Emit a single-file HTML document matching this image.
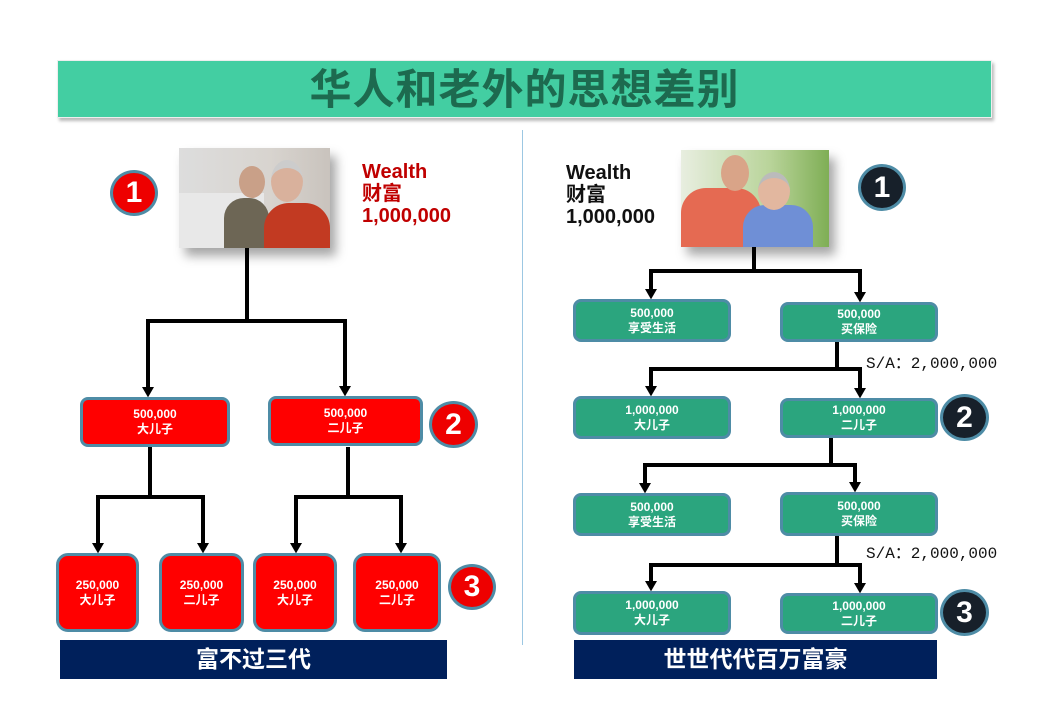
<!DOCTYPE html>
<html><head><meta charset="utf-8">
<style>
*{margin:0;padding:0;box-sizing:border-box}
body{width:1040px;height:720px;background:#fff;position:relative;overflow:hidden;font-family:"Liberation Sans","Noto Sans CJK SC",sans-serif}
.a{position:absolute}
.title{left:57px;top:60px;width:935px;height:58px;background:#43CEA2;box-shadow:2px 3px 3px #bbb;border:1px solid #eee;color:#1D6A4F;font-size:42px;font-weight:bold;text-align:center;line-height:58px;letter-spacing:1px}
.box{position:absolute;border:3px solid #4E8CA6;border-radius:8px;color:#fff;font-weight:bold;text-align:center;display:flex;flex-direction:column;justify-content:center;font-size:12px;line-height:15px}
.r{background:#FF0000}
.g{background:#2BA57E}
.c{position:absolute;border-radius:50%;border:3px solid #4E8CA6;color:#fff;font-weight:bold;font-size:30px;text-align:center;display:flex;align-items:center;justify-content:center}
.cr{background:#EE0000}
.cd{background:#17202A}
.banner{position:absolute;top:640px;height:39px;background:#00205B;color:#fff;font-size:23px;font-weight:bold;text-align:center;line-height:39px}
.w{font-weight:bold;font-size:20px;line-height:22px}
.sa{position:absolute;font-family:"Liberation Mono","Noto Sans CJK SC",monospace;font-size:16px;color:#111}
.photo{position:absolute;box-shadow:6px 8px 10px rgba(0,0,0,.35);overflow:hidden}
</style></head><body>
<div class="a title">华人和老外的思想差别</div>
<div class="a" style="left:522px;top:130px;width:1px;height:515px;background:#9CC7E2"></div>

<div class="photo" style="left:179px;top:148px;width:151px;height:100px;background:linear-gradient(90deg,#ddd 0%,#d8d4cf 60%,#c9c3bd 100%)">
  <div class="a" style="left:0;top:45px;width:85px;height:55px;background:#e8e8e8"></div>
  <div class="a" style="left:45px;top:50px;width:45px;height:50px;background:#6d6655;border-radius:20px 20px 0 0"></div>
  <div class="a" style="left:60px;top:18px;width:26px;height:32px;background:#c9a088;border-radius:50%"></div>
  <div class="a" style="left:85px;top:55px;width:66px;height:45px;background:#c23a22;border-radius:25px 25px 0 0"></div>
  <div class="a" style="left:92px;top:12px;width:32px;height:42px;background:#d9b19c;border-radius:50%;border-top:8px solid #ccc"></div>
</div>
<div class="c cr" style="left:110px;top:170px;width:48px;height:46px">1</div>
<div class="a w" style="left:362px;top:161px;color:#C00000">Wealth<br>财富<br>1,000,000</div>

<div class="photo" style="left:681px;top:150px;width:148px;height:97px;background:linear-gradient(90deg,#e8eee0 0%,#b9d49a 60%,#7fae55 100%)">
  <div class="a" style="left:0;top:38px;width:80px;height:59px;background:#e56a52;border-radius:25px 25px 0 0"></div>
  <div class="a" style="left:40px;top:5px;width:28px;height:36px;background:#d9a488;border-radius:50%"></div>
  <div class="a" style="left:62px;top:55px;width:70px;height:42px;background:#6f8fd6;border-radius:22px 22px 0 0"></div>
  <div class="a" style="left:77px;top:22px;width:32px;height:38px;background:#e2b79f;border-radius:50%;border-top:6px solid #bbb"></div>
</div>
<div class="c cd" style="left:858px;top:164px;width:48px;height:47px">1</div>
<div class="a w" style="left:566px;top:162px;color:#111">Wealth<br>财富<br>1,000,000</div>

<svg class="a" style="left:0;top:0" width="1040" height="720">
<defs><marker id="ar" markerWidth="2.6" markerHeight="3" refX="1" refY="1.5" orient="auto" markerUnits="strokeWidth"><path d="M0,0 L2.6,1.5 L0,3 z" fill="#000"/></marker></defs>
<g stroke="#000" stroke-width="4" fill="none">
<path d="M247,248 V321 M146,321 H347"/>
<path d="M148,319 V391" marker-end="url(#ar)"/>
<path d="M345,319 V390" marker-end="url(#ar)"/>
<path d="M150,447 V497 M96,497 H205"/>
<path d="M98,495 V547" marker-end="url(#ar)"/>
<path d="M203,495 V547" marker-end="url(#ar)"/>
<path d="M348,447 V497 M294,497 H403"/>
<path d="M296,495 V547" marker-end="url(#ar)"/>
<path d="M401,495 V547" marker-end="url(#ar)"/>

<path d="M754,247 V271 M649,271 H862"/>
<path d="M651,269 V293" marker-end="url(#ar)"/>
<path d="M860,269 V296" marker-end="url(#ar)"/>
<path d="M837,342 V369 M649,369 H862"/>
<path d="M651,367 V390" marker-end="url(#ar)"/>
<path d="M860,367 V392" marker-end="url(#ar)"/>
<path d="M831,438 V465 M643,465 H857"/>
<path d="M645,463 V487" marker-end="url(#ar)"/>
<path d="M855,463 V486" marker-end="url(#ar)"/>
<path d="M837,536 V565 M649,565 H862"/>
<path d="M651,563 V585" marker-end="url(#ar)"/>
<path d="M860,563 V587" marker-end="url(#ar)"/>
</g></svg>

<div class="box r" style="left:80px;top:397px;width:150px;height:50px">500,000<br>大儿子</div>
<div class="box r" style="left:268px;top:396px;width:155px;height:50px">500,000<br>二儿子</div>
<div class="c cr" style="left:429px;top:401px;width:49px;height:47px">2</div>
<div class="box r" style="left:56px;top:553px;width:83px;height:79px;border-radius:12px">250,000<br>大儿子</div>
<div class="box r" style="left:159px;top:553px;width:85px;height:79px;border-radius:12px">250,000<br>二儿子</div>
<div class="box r" style="left:253px;top:553px;width:84px;height:79px;border-radius:12px">250,000<br>大儿子</div>
<div class="box r" style="left:353px;top:553px;width:88px;height:79px;border-radius:12px">250,000<br>二儿子</div>
<div class="c cr" style="left:448px;top:564px;width:48px;height:46px">3</div>
<div class="banner" style="left:60px;width:387px">富不过三代</div>

<div class="box g" style="left:573px;top:299px;width:158px;height:43px">500,000<br>享受生活</div>
<div class="box g" style="left:780px;top:302px;width:158px;height:40px">500,000<br>买保险</div>
<div class="sa" style="left:866px;top:349px">S/A：2,000,000</div>
<div class="box g" style="left:573px;top:396px;width:158px;height:43px">1,000,000<br>大儿子</div>
<div class="box g" style="left:780px;top:398px;width:158px;height:40px">1,000,000<br>二儿子</div>
<div class="c cd" style="left:940px;top:394px;width:49px;height:47px">2</div>
<div class="box g" style="left:573px;top:493px;width:158px;height:43px">500,000<br>享受生活</div>
<div class="box g" style="left:780px;top:492px;width:158px;height:44px">500,000<br>买保险</div>
<div class="sa" style="left:866px;top:539px">S/A：2,000,000</div>
<div class="box g" style="left:573px;top:591px;width:158px;height:44px">1,000,000<br>大儿子</div>
<div class="box g" style="left:780px;top:593px;width:158px;height:41px">1,000,000<br>二儿子</div>
<div class="c cd" style="left:940px;top:589px;width:49px;height:47px">3</div>
<div class="banner" style="left:574px;width:363px">世世代代百万富豪</div>
</body></html>
